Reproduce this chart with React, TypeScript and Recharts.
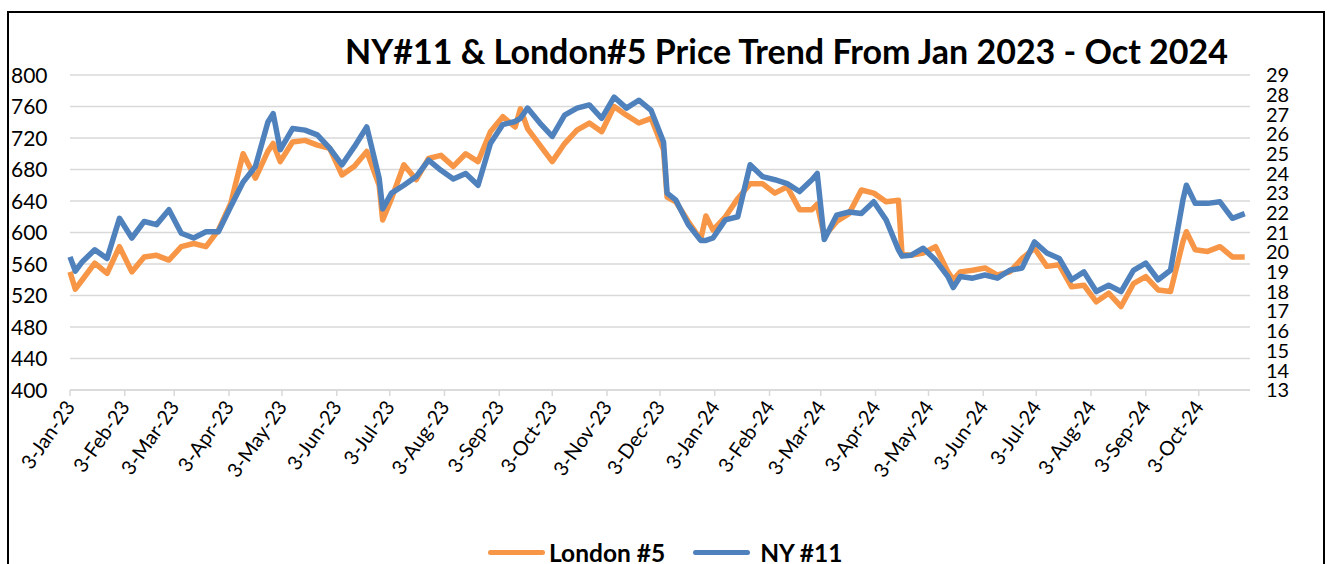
import React from 'react';
import { LineChart, Line, XAxis, YAxis, CartesianGrid } from 'recharts';

const dates = [
  '2023-01-03', '2023-01-06', '2023-01-10', '2023-01-17', '2023-01-24', '2023-01-31', '2023-02-07', '2023-02-14',
  '2023-02-21', '2023-02-28', '2023-03-07', '2023-03-14', '2023-03-21', '2023-03-28', '2023-04-04', '2023-04-11',
  '2023-04-18', '2023-04-25', '2023-04-28', '2023-05-02', '2023-05-09', '2023-05-16', '2023-05-23', '2023-05-30',
  '2023-06-06', '2023-06-13', '2023-06-20', '2023-06-27', '2023-06-29', '2023-07-04', '2023-07-11', '2023-07-18',
  '2023-07-25', '2023-08-01', '2023-08-08', '2023-08-15', '2023-08-22', '2023-08-29', '2023-09-05', '2023-09-12',
  '2023-09-15', '2023-09-19', '2023-09-26', '2023-10-03', '2023-10-10', '2023-10-17', '2023-10-24', '2023-10-31',
  '2023-11-07', '2023-11-14', '2023-11-21', '2023-11-28', '2023-12-05', '2023-12-07', '2023-12-12', '2023-12-19',
  '2023-12-26', '2023-12-29', '2024-01-02', '2024-01-09', '2024-01-16', '2024-01-23', '2024-01-30', '2024-02-06',
  '2024-02-13', '2024-02-20', '2024-02-27', '2024-03-01', '2024-03-05', '2024-03-12', '2024-03-19', '2024-03-26',
  '2024-04-02', '2024-04-09', '2024-04-16', '2024-04-18', '2024-04-23', '2024-04-30', '2024-05-07', '2024-05-14',
  '2024-05-17', '2024-05-21', '2024-05-28', '2024-06-04', '2024-06-11', '2024-06-18', '2024-06-25', '2024-07-02',
  '2024-07-09', '2024-07-16', '2024-07-23', '2024-07-30', '2024-08-06', '2024-08-13', '2024-08-20', '2024-08-27',
  '2024-09-03', '2024-09-10', '2024-09-17', '2024-09-24', '2024-09-26', '2024-10-01', '2024-10-08', '2024-10-15',
  '2024-10-22', '2024-10-29',
];

// London #5, left axis
const london = [
  550, 528, 540, 561, 548, 582, 550, 569, 571, 565, 582, 586, 582, 603, 637, 700,
  669, 703, 713, 690, 715, 717, 711, 707, 673, 684, 703, 660, 616, 643, 686, 667,
  694, 698, 684, 700, 690, 728, 747, 734, 757, 732, 711, 690, 713, 730, 739, 728,
  760, 749, 739, 745, 705, 645, 639, 614, 591, 621, 603, 620, 643, 662, 662, 650,
  658, 629, 629, 636, 595, 614, 624, 654, 650, 639, 641, 572, 571, 574, 582, 550,
  540, 550, 552, 555, 546, 550, 567, 580, 557, 559, 531, 533, 512, 523, 506, 535,
  544, 527, 525, 588, 601, 578, 576, 582, 569, 569,
];

// NY #11, right axis
const ny = [
  19.76, 19.04, 19.52, 20.12, 19.68, 21.72, 20.72, 21.56, 21.4, 22.16, 20.96, 20.72, 21.04, 21.04, 22.32, 23.56,
  24.36, 26.6, 27.04, 25.2, 26.28, 26.2, 25.96, 25.28, 24.44, 25.36, 26.36, 23.76, 22.2, 23.0, 23.4, 23.84,
  24.68, 24.16, 23.72, 24.0, 23.4, 25.52, 26.48, 26.64, 26.8, 27.32, 26.56, 25.88, 26.96, 27.32, 27.48, 26.8,
  27.88, 27.32, 27.72, 27.2, 25.6, 23.0, 22.64, 21.4, 20.6, 20.6, 20.72, 21.64, 21.8, 24.44, 23.84, 23.68,
  23.48, 23.08, 23.68, 24.0, 20.64, 21.88, 22.04, 21.96, 22.56, 21.64, 20.12, 19.8, 19.84, 20.2, 19.6, 18.76,
  18.2, 18.76, 18.68, 18.84, 18.68, 19.08, 19.2, 20.52, 19.96, 19.68, 18.6, 19.0, 18.0, 18.32, 18.0, 19.08,
  19.44, 18.6, 19.08, 22.64, 23.4, 22.48, 22.48, 22.56, 21.72, 21.96,
];

const tickDates = [
  '2023-01-03', '2023-02-03', '2023-03-03', '2023-04-03', '2023-05-03', '2023-06-03', '2023-07-03', '2023-08-03',
  '2023-09-03', '2023-10-03', '2023-11-03', '2023-12-03', '2024-01-03', '2024-02-03', '2024-03-03', '2024-04-03',
  '2024-05-03', '2024-06-03', '2024-07-03', '2024-08-03', '2024-09-03', '2024-10-03',
];
const tickLabels = [
  '3-Jan-23', '3-Feb-23', '3-Mar-23', '3-Apr-23', '3-May-23', '3-Jun-23', '3-Jul-23', '3-Aug-23',
  '3-Sep-23', '3-Oct-23', '3-Nov-23', '3-Dec-23', '3-Jan-24', '3-Feb-24', '3-Mar-24', '3-Apr-24',
  '3-May-24', '3-Jun-24', '3-Jul-24', '3-Aug-24', '3-Sep-24', '3-Oct-24',
];
const leftTicks = [400, 440, 480, 520, 560, 600, 640, 680, 720, 760, 800];
const rightTicks = [13, 14, 15, 16, 17, 18, 19, 20, 21, 22, 23, 24, 25, 26, 27, 28, 29];

const ORANGE = '#F79646';
const BLUE = '#4F81BD';
const GRID = '#D9D9D9';
const FONT = 'Lato, "Open Sans", sans-serif';

const START = Date.UTC(2023, 0, 3);
function dayOf(s: string) {
  const [y, m, d] = s.split('-').map(Number);
  return Math.round((Date.UTC(y, m - 1, d) - START) / 86400000);
}

const data = dates.map((s, i) => ({ d: dayOf(s), london: london[i], ny: ny[i] }));
const xTicks = tickDates.map(dayOf);
const labelOf: Record<number, string> = {};
xTicks.forEach((t, i) => { labelOf[t] = tickLabels[i]; });

const XTick = (props: any) => {
  const { x, y, payload } = props;
  const ax = x + 6;
  const ay = y + 9;
  return (
    <text x={ax} y={ay} transform={`rotate(-55 ${ax} ${ay})`} textAnchor="end" fontSize={20} fontFamily={FONT} fill="#000">
      {labelOf[payload.value]}
    </text>
  );
};

const LeftTick = (props: any) => {
  const { y, payload } = props;
  return (
    <text x={11} y={y} dy="0.36em" textAnchor="start" fontSize={21} fontFamily={FONT} fill="#000">
      {payload.value}
    </text>
  );
};

const RightTick = (props: any) => {
  const { y, payload } = props;
  return (
    <text x={1266} y={y} dy="0.36em" textAnchor="start" fontSize={20} fontFamily={FONT} fill="#000">
      {payload.value}
    </text>
  );
};

export default function App() {
  return (
    <div style={{ position: 'fixed', left: 0, top: 0, width: 1328, height: 564, overflow: 'hidden', background: '#fff' }}>
      <div style={{ position: 'absolute', left: 7, top: 11, width: 1318, height: 600, border: '2px solid #000', boxSizing: 'border-box' }} />
      <div style={{ position: 'absolute', left: 0, top: 0 }}>
        <LineChart width={1328} height={564} data={data} margin={{ top: 75, right: 18, bottom: 0, left: 0 }}>
          <text x={1228} y={64} textAnchor="end" fontSize={34} fontWeight={700} fontFamily={FONT} fill="#000">
            NY#11 &amp; London#5 Price Trend From Jan 2023 - Oct 2024
          </text>
          <CartesianGrid yAxisId="L" vertical={false} stroke={GRID} strokeWidth={1.5} />
          <XAxis
            dataKey="d"
            type="number"
            domain={[0, 668]}
            ticks={xTicks}
            interval={0}
            height={174}
            axisLine={{ stroke: GRID, strokeWidth: 1.5 }}
            tickLine={{ stroke: GRID, strokeWidth: 1.5 }}
            tickSize={6}
            tick={<XTick />}
          />
          <YAxis yAxisId="L" domain={[400, 800]} ticks={leftTicks} width={70} axisLine={false} tickLine={false} tick={<LeftTick />} />
          <YAxis yAxisId="R" orientation="right" domain={[13, 29]} ticks={rightTicks} interval={0} width={60} axisLine={false} tickLine={false} tick={<RightTick />} />
          <Line yAxisId="L" dataKey="london" stroke={ORANGE} strokeWidth={5.5} dot={false} isAnimationActive={false} strokeLinejoin="round" />
          <Line yAxisId="R" dataKey="ny" stroke={BLUE} strokeWidth={5.5} dot={false} isAnimationActive={false} strokeLinejoin="round" />
        </LineChart>
      </div>
      <div style={{ position: 'absolute', left: 488, top: 538, display: 'flex', alignItems: 'center', fontFamily: FONT, fontWeight: 700, fontSize: 24.5, whiteSpace: 'nowrap' }}>
        <span style={{ display: 'inline-block', width: 57, height: 5, borderRadius: 3, background: ORANGE, marginRight: 4 }} />
        <span>London #5</span>
        <span style={{ display: 'inline-block', width: 57, height: 5, borderRadius: 3, background: BLUE, marginLeft: 28, marginRight: 10 }} />
        <span>NY #11</span>
      </div>
    </div>
  );
}
